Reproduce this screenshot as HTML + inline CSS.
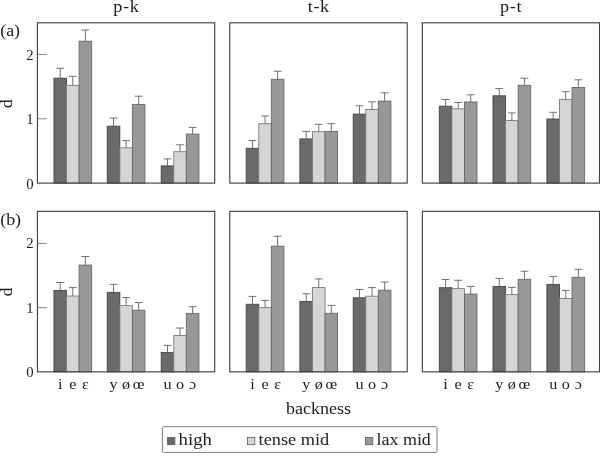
<!DOCTYPE html>
<html><head><meta charset="utf-8"><title>d by backness</title>
<style>html,body{margin:0;padding:0;background:#fff}svg{display:block}text{font-family:"Liberation Serif","DejaVu Serif",serif;fill:#1c1c1c}</style></head><body>
<svg width="600" height="457" viewBox="0 0 600 457">
<rect width="600" height="457" fill="#fff"/>
<g>
<rect x="53.95" y="78.20" width="12.57" height="104.90" fill="#6a6a6a" stroke="#444444" stroke-width="0.9"/>
<path d="M60.23 78.20V68.30M56.34 68.30H64.14" fill="none" stroke="#626262" stroke-width="0.9"/>
<rect x="66.52" y="85.30" width="12.57" height="97.80" fill="#d5d5d5" stroke="#7c7c7c" stroke-width="0.9"/>
<path d="M72.81 85.30V76.30M68.91 76.30H76.71" fill="none" stroke="#626262" stroke-width="0.9"/>
<rect x="79.09" y="41.20" width="12.57" height="141.90" fill="#989898" stroke="#686868" stroke-width="0.9"/>
<path d="M85.38 41.20V30.00M81.47 30.00H89.28" fill="none" stroke="#626262" stroke-width="0.9"/>
<rect x="107.25" y="126.20" width="12.57" height="56.90" fill="#6a6a6a" stroke="#444444" stroke-width="0.9"/>
<path d="M113.53 126.20V118.00M109.63 118.00H117.44" fill="none" stroke="#626262" stroke-width="0.9"/>
<rect x="119.82" y="147.80" width="12.57" height="35.30" fill="#d5d5d5" stroke="#7c7c7c" stroke-width="0.9"/>
<path d="M126.10 147.80V140.60M122.20 140.60H130.00" fill="none" stroke="#626262" stroke-width="0.9"/>
<rect x="132.39" y="104.40" width="12.57" height="78.70" fill="#989898" stroke="#686868" stroke-width="0.9"/>
<path d="M138.67 104.40V96.20M134.77 96.20H142.57" fill="none" stroke="#626262" stroke-width="0.9"/>
<rect x="161.20" y="165.90" width="12.57" height="17.20" fill="#6a6a6a" stroke="#444444" stroke-width="0.9"/>
<path d="M167.48 165.90V158.90M163.58 158.90H171.38" fill="none" stroke="#626262" stroke-width="0.9"/>
<rect x="173.77" y="151.70" width="12.57" height="31.40" fill="#d5d5d5" stroke="#7c7c7c" stroke-width="0.9"/>
<path d="M180.05 151.70V144.80M176.15 144.80H183.95" fill="none" stroke="#626262" stroke-width="0.9"/>
<rect x="186.34" y="134.10" width="12.57" height="49.00" fill="#989898" stroke="#686868" stroke-width="0.9"/>
<path d="M192.62 134.10V127.40M188.72 127.40H196.52" fill="none" stroke="#626262" stroke-width="0.9"/>
<line x1="37.45" x2="46.80" y1="118.75" y2="118.75" stroke="#787878" stroke-width="0.9"/>
<line x1="37.45" x2="46.80" y1="54.40" y2="54.40" stroke="#787878" stroke-width="0.9"/>
<rect x="37.45" y="22.80" width="177.25" height="160.30" fill="none" stroke="#424242" stroke-width="1.15"/>
</g>
<g>
<rect x="246.20" y="148.30" width="12.57" height="34.80" fill="#6a6a6a" stroke="#444444" stroke-width="0.9"/>
<path d="M252.48 148.30V140.60M248.58 140.60H256.38" fill="none" stroke="#626262" stroke-width="0.9"/>
<rect x="258.77" y="123.70" width="12.57" height="59.40" fill="#d5d5d5" stroke="#7c7c7c" stroke-width="0.9"/>
<path d="M265.06 123.70V116.00M261.16 116.00H268.95" fill="none" stroke="#626262" stroke-width="0.9"/>
<rect x="271.34" y="79.30" width="12.57" height="103.80" fill="#989898" stroke="#686868" stroke-width="0.9"/>
<path d="M277.62 79.30V71.30M273.73 71.30H281.52" fill="none" stroke="#626262" stroke-width="0.9"/>
<rect x="299.90" y="138.90" width="12.57" height="44.20" fill="#6a6a6a" stroke="#444444" stroke-width="0.9"/>
<path d="M306.19 138.90V131.40M302.29 131.40H310.08" fill="none" stroke="#626262" stroke-width="0.9"/>
<rect x="312.47" y="131.70" width="12.57" height="51.40" fill="#d5d5d5" stroke="#7c7c7c" stroke-width="0.9"/>
<path d="M318.75 131.70V124.30M314.86 124.30H322.65" fill="none" stroke="#626262" stroke-width="0.9"/>
<rect x="325.04" y="131.40" width="12.57" height="51.70" fill="#989898" stroke="#686868" stroke-width="0.9"/>
<path d="M331.32 131.40V123.70M327.43 123.70H335.22" fill="none" stroke="#626262" stroke-width="0.9"/>
<rect x="353.20" y="114.10" width="12.57" height="69.00" fill="#6a6a6a" stroke="#444444" stroke-width="0.9"/>
<path d="M359.49 114.10V105.80M355.59 105.80H363.38" fill="none" stroke="#626262" stroke-width="0.9"/>
<rect x="365.77" y="109.50" width="12.57" height="73.60" fill="#d5d5d5" stroke="#7c7c7c" stroke-width="0.9"/>
<path d="M372.06 109.50V101.80M368.16 101.80H375.95" fill="none" stroke="#626262" stroke-width="0.9"/>
<rect x="378.34" y="101.10" width="12.57" height="82.00" fill="#989898" stroke="#686868" stroke-width="0.9"/>
<path d="M384.62 101.10V92.80M380.73 92.80H388.52" fill="none" stroke="#626262" stroke-width="0.9"/>
<rect x="229.80" y="22.80" width="177.40" height="160.30" fill="none" stroke="#424242" stroke-width="1.15"/>
</g>
<g>
<rect x="439.30" y="106.20" width="12.57" height="76.90" fill="#6a6a6a" stroke="#444444" stroke-width="0.9"/>
<path d="M445.59 106.20V99.50M441.69 99.50H449.49" fill="none" stroke="#626262" stroke-width="0.9"/>
<rect x="451.87" y="108.80" width="12.57" height="74.30" fill="#d5d5d5" stroke="#7c7c7c" stroke-width="0.9"/>
<path d="M458.16 108.80V102.50M454.26 102.50H462.06" fill="none" stroke="#626262" stroke-width="0.9"/>
<rect x="464.44" y="102.00" width="12.57" height="81.10" fill="#989898" stroke="#686868" stroke-width="0.9"/>
<path d="M470.73 102.00V94.80M466.83 94.80H474.62" fill="none" stroke="#626262" stroke-width="0.9"/>
<rect x="493.00" y="95.80" width="12.57" height="87.30" fill="#6a6a6a" stroke="#444444" stroke-width="0.9"/>
<path d="M499.29 95.80V88.60M495.39 88.60H503.19" fill="none" stroke="#626262" stroke-width="0.9"/>
<rect x="505.57" y="120.50" width="12.57" height="62.60" fill="#d5d5d5" stroke="#7c7c7c" stroke-width="0.9"/>
<path d="M511.86 120.50V112.90M507.96 112.90H515.75" fill="none" stroke="#626262" stroke-width="0.9"/>
<rect x="518.14" y="85.30" width="12.57" height="97.80" fill="#989898" stroke="#686868" stroke-width="0.9"/>
<path d="M524.42 85.30V78.20M520.52 78.20H528.32" fill="none" stroke="#626262" stroke-width="0.9"/>
<rect x="546.90" y="119.00" width="12.57" height="64.10" fill="#6a6a6a" stroke="#444444" stroke-width="0.9"/>
<path d="M553.18 119.00V112.30M549.28 112.30H557.08" fill="none" stroke="#626262" stroke-width="0.9"/>
<rect x="559.47" y="99.40" width="12.57" height="83.70" fill="#d5d5d5" stroke="#7c7c7c" stroke-width="0.9"/>
<path d="M565.75 99.40V91.70M561.86 91.70H569.65" fill="none" stroke="#626262" stroke-width="0.9"/>
<rect x="572.04" y="87.50" width="12.57" height="95.60" fill="#989898" stroke="#686868" stroke-width="0.9"/>
<path d="M578.32 87.50V79.80M574.42 79.80H582.22" fill="none" stroke="#626262" stroke-width="0.9"/>
<rect x="422.35" y="22.80" width="177.15" height="160.30" fill="none" stroke="#424242" stroke-width="1.15"/>
</g>
<text transform="translate(33.50 188.50) scale(0.95 1)" font-size="15.5" text-anchor="end">0</text>
<text transform="translate(33.50 124.15) scale(0.95 1)" font-size="15.5" text-anchor="end">1</text>
<text transform="translate(33.50 59.80) scale(0.95 1)" font-size="15.5" text-anchor="end">2</text>
<text transform="translate(12.4 103.70) rotate(-90)" font-size="17.2" text-anchor="middle">d</text>
<text transform="translate(0.20 36.00) scale(1.12 1)" font-size="16.0" text-anchor="start">(a)</text>
<g>
<rect x="53.95" y="290.40" width="12.57" height="81.45" fill="#6a6a6a" stroke="#444444" stroke-width="0.9"/>
<path d="M60.23 290.40V282.50M56.34 282.50H64.14" fill="none" stroke="#626262" stroke-width="0.9"/>
<rect x="66.52" y="296.00" width="12.57" height="75.85" fill="#d5d5d5" stroke="#7c7c7c" stroke-width="0.9"/>
<path d="M72.81 296.00V287.60M68.91 287.60H76.71" fill="none" stroke="#626262" stroke-width="0.9"/>
<rect x="79.09" y="265.10" width="12.57" height="106.75" fill="#989898" stroke="#686868" stroke-width="0.9"/>
<path d="M85.38 265.10V256.50M81.47 256.50H89.28" fill="none" stroke="#626262" stroke-width="0.9"/>
<rect x="107.25" y="292.40" width="12.57" height="79.45" fill="#6a6a6a" stroke="#444444" stroke-width="0.9"/>
<path d="M113.53 292.40V284.40M109.63 284.40H117.44" fill="none" stroke="#626262" stroke-width="0.9"/>
<rect x="119.82" y="305.60" width="12.57" height="66.25" fill="#d5d5d5" stroke="#7c7c7c" stroke-width="0.9"/>
<path d="M126.10 305.60V297.60M122.20 297.60H130.00" fill="none" stroke="#626262" stroke-width="0.9"/>
<rect x="132.39" y="310.20" width="12.57" height="61.65" fill="#989898" stroke="#686868" stroke-width="0.9"/>
<path d="M138.67 310.20V302.50M134.77 302.50H142.57" fill="none" stroke="#626262" stroke-width="0.9"/>
<rect x="161.20" y="352.40" width="12.57" height="19.45" fill="#6a6a6a" stroke="#444444" stroke-width="0.9"/>
<path d="M167.48 352.40V345.40M163.58 345.40H171.38" fill="none" stroke="#626262" stroke-width="0.9"/>
<rect x="173.77" y="335.50" width="12.57" height="36.35" fill="#d5d5d5" stroke="#7c7c7c" stroke-width="0.9"/>
<path d="M180.05 335.50V328.00M176.15 328.00H183.95" fill="none" stroke="#626262" stroke-width="0.9"/>
<rect x="186.34" y="313.40" width="12.57" height="58.45" fill="#989898" stroke="#686868" stroke-width="0.9"/>
<path d="M192.62 313.40V306.70M188.72 306.70H196.52" fill="none" stroke="#626262" stroke-width="0.9"/>
<line x1="37.45" x2="46.80" y1="307.70" y2="307.70" stroke="#787878" stroke-width="0.9"/>
<line x1="37.45" x2="46.80" y1="243.40" y2="243.40" stroke="#787878" stroke-width="0.9"/>
<rect x="37.45" y="211.35" width="177.25" height="160.50" fill="none" stroke="#424242" stroke-width="1.15"/>
</g>
<g>
<rect x="246.20" y="304.30" width="12.57" height="67.55" fill="#6a6a6a" stroke="#444444" stroke-width="0.9"/>
<path d="M252.48 304.30V296.40M248.58 296.40H256.38" fill="none" stroke="#626262" stroke-width="0.9"/>
<rect x="258.77" y="307.60" width="12.57" height="64.25" fill="#d5d5d5" stroke="#7c7c7c" stroke-width="0.9"/>
<path d="M265.06 307.60V300.40M261.16 300.40H268.95" fill="none" stroke="#626262" stroke-width="0.9"/>
<rect x="271.34" y="246.20" width="12.57" height="125.65" fill="#989898" stroke="#686868" stroke-width="0.9"/>
<path d="M277.62 246.20V236.20M273.73 236.20H281.52" fill="none" stroke="#626262" stroke-width="0.9"/>
<rect x="299.90" y="301.40" width="12.57" height="70.45" fill="#6a6a6a" stroke="#444444" stroke-width="0.9"/>
<path d="M306.19 301.40V293.80M302.29 293.80H310.08" fill="none" stroke="#626262" stroke-width="0.9"/>
<rect x="312.47" y="287.50" width="12.57" height="84.35" fill="#d5d5d5" stroke="#7c7c7c" stroke-width="0.9"/>
<path d="M318.75 287.50V278.90M314.86 278.90H322.65" fill="none" stroke="#626262" stroke-width="0.9"/>
<rect x="325.04" y="313.30" width="12.57" height="58.55" fill="#989898" stroke="#686868" stroke-width="0.9"/>
<path d="M331.32 313.30V305.40M327.43 305.40H335.22" fill="none" stroke="#626262" stroke-width="0.9"/>
<rect x="353.20" y="297.80" width="12.57" height="74.05" fill="#6a6a6a" stroke="#444444" stroke-width="0.9"/>
<path d="M359.49 297.80V289.50M355.59 289.50H363.38" fill="none" stroke="#626262" stroke-width="0.9"/>
<rect x="365.77" y="296.20" width="12.57" height="75.65" fill="#d5d5d5" stroke="#7c7c7c" stroke-width="0.9"/>
<path d="M372.06 296.20V287.60M368.16 287.60H375.95" fill="none" stroke="#626262" stroke-width="0.9"/>
<rect x="378.34" y="290.20" width="12.57" height="81.65" fill="#989898" stroke="#686868" stroke-width="0.9"/>
<path d="M384.62 290.20V282.10M380.73 282.10H388.52" fill="none" stroke="#626262" stroke-width="0.9"/>
<rect x="229.80" y="211.35" width="177.40" height="160.50" fill="none" stroke="#424242" stroke-width="1.15"/>
</g>
<g>
<rect x="439.30" y="287.70" width="12.57" height="84.15" fill="#6a6a6a" stroke="#444444" stroke-width="0.9"/>
<path d="M445.59 287.70V279.50M441.69 279.50H449.49" fill="none" stroke="#626262" stroke-width="0.9"/>
<rect x="451.87" y="288.60" width="12.57" height="83.25" fill="#d5d5d5" stroke="#7c7c7c" stroke-width="0.9"/>
<path d="M458.16 288.60V280.30M454.26 280.30H462.06" fill="none" stroke="#626262" stroke-width="0.9"/>
<rect x="464.44" y="294.10" width="12.57" height="77.75" fill="#989898" stroke="#686868" stroke-width="0.9"/>
<path d="M470.73 294.10V286.40M466.83 286.40H474.62" fill="none" stroke="#626262" stroke-width="0.9"/>
<rect x="493.00" y="286.40" width="12.57" height="85.45" fill="#6a6a6a" stroke="#444444" stroke-width="0.9"/>
<path d="M499.29 286.40V278.40M495.39 278.40H503.19" fill="none" stroke="#626262" stroke-width="0.9"/>
<rect x="505.57" y="294.60" width="12.57" height="77.25" fill="#d5d5d5" stroke="#7c7c7c" stroke-width="0.9"/>
<path d="M511.86 294.60V287.30M507.96 287.30H515.75" fill="none" stroke="#626262" stroke-width="0.9"/>
<rect x="518.14" y="279.30" width="12.57" height="92.55" fill="#989898" stroke="#686868" stroke-width="0.9"/>
<path d="M524.42 279.30V271.20M520.52 271.20H528.32" fill="none" stroke="#626262" stroke-width="0.9"/>
<rect x="546.90" y="284.40" width="12.57" height="87.45" fill="#6a6a6a" stroke="#444444" stroke-width="0.9"/>
<path d="M553.18 284.40V276.40M549.28 276.40H557.08" fill="none" stroke="#626262" stroke-width="0.9"/>
<rect x="559.47" y="298.50" width="12.57" height="73.35" fill="#d5d5d5" stroke="#7c7c7c" stroke-width="0.9"/>
<path d="M565.75 298.50V290.50M561.86 290.50H569.65" fill="none" stroke="#626262" stroke-width="0.9"/>
<rect x="572.04" y="277.30" width="12.57" height="94.55" fill="#989898" stroke="#686868" stroke-width="0.9"/>
<path d="M578.32 277.30V269.30M574.42 269.30H582.22" fill="none" stroke="#626262" stroke-width="0.9"/>
<rect x="422.35" y="211.35" width="177.15" height="160.50" fill="none" stroke="#424242" stroke-width="1.15"/>
</g>
<text transform="translate(33.50 376.75) scale(0.95 1)" font-size="15.5" text-anchor="end">0</text>
<text transform="translate(33.50 312.60) scale(0.95 1)" font-size="15.5" text-anchor="end">1</text>
<text transform="translate(33.50 248.30) scale(0.95 1)" font-size="15.5" text-anchor="end">2</text>
<text transform="translate(12.4 292.00) rotate(-90)" font-size="17.2" text-anchor="middle">d</text>
<text transform="translate(0.20 224.55) scale(1.12 1)" font-size="16.0" text-anchor="start">(b)</text>
<text transform="translate(126.32 12.00) scale(1.12 1)" font-size="16.3" text-anchor="middle" letter-spacing="0.55">p-k</text>
<text transform="translate(60.23 388.50) scale(1.14 1)" font-size="14.2" text-anchor="middle">i</text>
<text transform="translate(72.81 388.50) scale(1.14 1)" font-size="14.2" text-anchor="middle">e</text>
<text transform="translate(85.38 388.50) scale(1.14 1)" font-size="14.2" text-anchor="middle">ɛ</text>
<text transform="translate(113.53 388.50) scale(1.14 1)" font-size="14.2" text-anchor="middle">y</text>
<text transform="translate(126.10 388.50) scale(1.14 1)" font-size="14.2" text-anchor="middle">ø</text>
<text transform="translate(138.67 388.50) scale(1.14 1)" font-size="14.2" text-anchor="middle">œ</text>
<text transform="translate(167.48 388.50) scale(1.14 1)" font-size="14.2" text-anchor="middle">u</text>
<text transform="translate(180.05 388.50) scale(1.14 1)" font-size="14.2" text-anchor="middle">o</text>
<text transform="translate(192.62 388.50) scale(1.14 1)" font-size="14.2" text-anchor="middle">ɔ</text>
<text transform="translate(318.75 12.00) scale(1.12 1)" font-size="16.3" text-anchor="middle" letter-spacing="0.55">t-k</text>
<text transform="translate(252.48 388.50) scale(1.14 1)" font-size="14.2" text-anchor="middle">i</text>
<text transform="translate(265.06 388.50) scale(1.14 1)" font-size="14.2" text-anchor="middle">e</text>
<text transform="translate(277.62 388.50) scale(1.14 1)" font-size="14.2" text-anchor="middle">ɛ</text>
<text transform="translate(306.19 388.50) scale(1.14 1)" font-size="14.2" text-anchor="middle">y</text>
<text transform="translate(318.75 388.50) scale(1.14 1)" font-size="14.2" text-anchor="middle">ø</text>
<text transform="translate(331.32 388.50) scale(1.14 1)" font-size="14.2" text-anchor="middle">œ</text>
<text transform="translate(359.49 388.50) scale(1.14 1)" font-size="14.2" text-anchor="middle">u</text>
<text transform="translate(372.06 388.50) scale(1.14 1)" font-size="14.2" text-anchor="middle">o</text>
<text transform="translate(384.62 388.50) scale(1.14 1)" font-size="14.2" text-anchor="middle">ɔ</text>
<text transform="translate(511.18 12.00) scale(1.12 1)" font-size="16.3" text-anchor="middle" letter-spacing="0.55">p-t</text>
<text transform="translate(445.59 388.50) scale(1.14 1)" font-size="14.2" text-anchor="middle">i</text>
<text transform="translate(458.16 388.50) scale(1.14 1)" font-size="14.2" text-anchor="middle">e</text>
<text transform="translate(470.73 388.50) scale(1.14 1)" font-size="14.2" text-anchor="middle">ɛ</text>
<text transform="translate(499.29 388.50) scale(1.14 1)" font-size="14.2" text-anchor="middle">y</text>
<text transform="translate(511.86 388.50) scale(1.14 1)" font-size="14.2" text-anchor="middle">ø</text>
<text transform="translate(524.42 388.50) scale(1.14 1)" font-size="14.2" text-anchor="middle">œ</text>
<text transform="translate(553.18 388.50) scale(1.14 1)" font-size="14.2" text-anchor="middle">u</text>
<text transform="translate(565.75 388.50) scale(1.14 1)" font-size="14.2" text-anchor="middle">o</text>
<text transform="translate(578.32 388.50) scale(1.14 1)" font-size="14.2" text-anchor="middle">ɔ</text>
<text transform="translate(318.50 413.50) scale(1.115 1)" font-size="16.2" text-anchor="middle">backness</text>
<rect x="162.4" y="426.7" width="274.6" height="25.7" rx="1" fill="#fff" stroke="#7c7c7c" stroke-width="1"/>
<rect x="167.6" y="437.4" width="7.3" height="7.3" fill="#6a6a6a" stroke="#5a5a5a" stroke-width="0.8"/>
<text transform="translate(178.60 444.80) scale(1.115 1)" font-size="16.8" text-anchor="start">high</text>
<rect x="247.5" y="437.4" width="7.3" height="7.3" fill="#d5d5d5" stroke="#5a5a5a" stroke-width="0.8"/>
<text transform="translate(258.60 444.80) scale(1.09 1)" font-size="16.8" text-anchor="start">tense mid</text>
<rect x="365.5" y="437.4" width="7.3" height="7.3" fill="#989898" stroke="#5a5a5a" stroke-width="0.8"/>
<text transform="translate(376.50 444.80) scale(1.07 1)" font-size="16.8" text-anchor="start">lax mid</text>
</svg></body></html>
